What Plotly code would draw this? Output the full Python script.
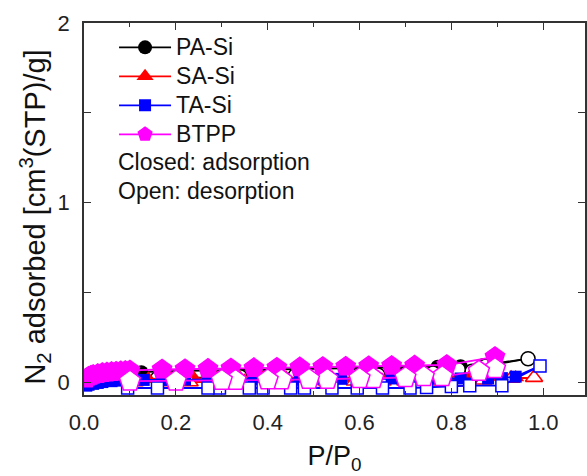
import plotly.graph_objects as go

# ---------------- data ----------------
pa_ads_x = [0.005, 0.02, 0.04, 0.06, 0.08, 0.10, 0.125, 0.17, 0.22, 0.27, 0.32, 0.37, 0.42, 0.47, 0.52,
            0.57, 0.62, 0.67, 0.72, 0.77, 0.82, 0.87, 0.967]
pa_ads_y = [0.01, 0.02, 0.03, 0.035, 0.04, 0.045, 0.055, 0.06, 0.062, 0.064, 0.066, 0.068, 0.07, 0.072, 0.074,
            0.076, 0.078, 0.08, 0.082, 0.085, 0.088, 0.095, 0.13]
pa_des_x = [0.967, 0.875, 0.845, 0.815, 0.76, 0.70, 0.64, 0.58, 0.52, 0.46, 0.40, 0.34, 0.28, 0.22, 0.16, 0.10]
pa_des_y = [0.13, 0.09, 0.06, 0.07, 0.05, 0.045, 0.04, 0.04, 0.035, 0.035, 0.03, 0.03, 0.025, 0.025, 0.02, 0.02]

sa_ads_x = [0.005, 0.02, 0.04, 0.06, 0.08, 0.10, 0.14, 0.19, 0.24, 0.29, 0.34, 0.39, 0.44, 0.49, 0.54,
            0.59, 0.64, 0.69, 0.74, 0.79, 0.84, 0.89, 0.94, 0.98]
sa_ads_y = [-0.01, 0.0, 0.005, 0.01, 0.012, 0.015, 0.018, 0.02, 0.02, 0.022, 0.022, 0.024, 0.024, 0.025, 0.026,
            0.026, 0.027, 0.028, 0.028, 0.03, 0.03, 0.03, 0.025, 0.02]
sa_des_x = [0.98, 0.93, 0.87, 0.815, 0.76, 0.70, 0.65, 0.59, 0.53, 0.47, 0.41, 0.35, 0.29, 0.23, 0.17, 0.11]
sa_des_y = [0.025, 0.02, 0.01, 0.0, 0.005, 0.005, 0.005, 0.005, 0.0, 0.0, 0.0, 0.0, 0.0, 0.0, 0.0, 0.0]

ta_ads_x = [0.005, 0.01, 0.02, 0.03, 0.04, 0.06, 0.08, 0.10, 0.13, 0.17, 0.22, 0.27, 0.32, 0.37, 0.42,
            0.47, 0.52, 0.56, 0.62, 0.67, 0.72, 0.77, 0.82, 0.88, 0.91, 0.94, 0.993]
ta_ads_y = [-0.02, -0.015, -0.01, -0.005, 0.0, 0.005, 0.008, 0.01, 0.012, 0.012, 0.014, 0.014, 0.015, 0.016, 0.016,
            0.017, 0.018, 0.018, 0.019, 0.02, 0.02, 0.02, 0.02, 0.02, 0.022, 0.03, 0.09]
ta_des_x = [0.993, 0.91, 0.84, 0.80, 0.746, 0.71, 0.65, 0.595, 0.54, 0.48, 0.45, 0.39, 0.36, 0.295, 0.27, 0.16, 0.095]
ta_des_y = [0.09, -0.02, -0.02, -0.025, -0.03, -0.033, -0.033, -0.033, -0.033, -0.033, -0.033, -0.033, -0.033,
            -0.033, -0.033, -0.033, -0.033]

bt_ads_x = [0.005, 0.01, 0.015, 0.02, 0.03, 0.04, 0.05, 0.06, 0.07, 0.08, 0.09, 0.10, 0.17, 0.22, 0.27,
            0.32, 0.37, 0.42, 0.47, 0.52, 0.57, 0.62, 0.67, 0.72, 0.79, 0.895]
bt_ads_y = [0.02, 0.03, 0.035, 0.04, 0.045, 0.05, 0.053, 0.056, 0.058, 0.06, 0.062, 0.065, 0.07, 0.072, 0.074,
            0.076, 0.078, 0.08, 0.082, 0.084, 0.086, 0.088, 0.09, 0.092, 0.095, 0.14]
bt_des_x = [0.895, 0.86, 0.78, 0.74, 0.70, 0.63, 0.60, 0.53, 0.49, 0.43, 0.40, 0.33, 0.30, 0.20, 0.10]
bt_des_y = [0.075, 0.06, 0.03, 0.03, 0.025, 0.02, 0.02, 0.015, 0.015, 0.012, 0.012, 0.01, 0.01, 0.005, 0.005]

names = ["PA-Si", "SA-Si", "TA-Si", "BTPP"]
colors = ["#000000", "#ff0000", "#0000ff", "#ff00ff"]
symbols = ["circle", "triangle-up", "square", "pentagon"]
sizes = [14, 15, 12, 22]
ads = [(pa_ads_x, pa_ads_y), (sa_ads_x, sa_ads_y), (ta_ads_x, ta_ads_y), (bt_ads_x, bt_ads_y)]
des = [(pa_des_x, pa_des_y), (sa_des_x, sa_des_y), (ta_des_x, ta_des_y), (bt_des_x, bt_des_y)]
note_lines = ["Closed: adsorption", "Open: desorption"]

FONT = "Liberation Sans, Arial, sans-serif"
TXT = "#111"

fig = go.Figure()
for i in range(4):
    fig.add_trace(go.Scatter(
        x=ads[i][0], y=ads[i][1], mode="lines+markers",
        name='<span style="font-size:23px">%s</span>' % names[i],
        line=dict(color=colors[i], width=1.8),
        marker=dict(symbol=symbols[i], size=sizes[i], color=colors[i],
                    line=dict(color=colors[i], width=0)),
    ))
    fig.add_trace(go.Scatter(
        x=des[i][0], y=des[i][1], mode="lines+markers", showlegend=False,
        line=dict(color=colors[i], width=1.8),
        marker=dict(symbol=symbols[i], size=sizes[i], color="white",
                    line=dict(color=colors[i], width=1.5)),
    ))

axis_common = dict(
    showline=True, linecolor="#333", linewidth=1.5, mirror="ticks",
    ticks="inside", tickcolor="#333", ticklen=7, tickwidth=1.2,
    showgrid=False, zeroline=False,
    tickfont=dict(family=FONT, size=22, color="#222"),
)

fig.update_xaxes(
    range=[0, 1.091], tickvals=[0, 0.2, 0.4, 0.6, 0.8, 1.0],
    ticktext=["0.0", "0.2", "0.4", "0.6", "0.8", "1.0"],
    minor=dict(ticks="inside", dtick=0.1, tick0=0, ticklen=4, tickcolor="#333"),
    title=dict(text="P/P<sub>0</sub>", font=dict(family=FONT, size=27, color=TXT), standoff=12),
    ticklabelstandoff=7,
    **axis_common,
)
fig.update_yaxes(
    range=[-0.072, 2.0], tickvals=[0, 1, 2],
    minor=dict(ticks="inside", dtick=0.5, tick0=0, ticklen=7, tickcolor="#333"),
    ticklabelstandoff=8,
    **axis_common,
)

# y-axis title
fig.add_annotation(text="N<sub>2</sub> adsorbed [cm<sup>3</sup>(STP)/g]", xref="paper", yref="paper",
                   x=-0.097, y=0.478, xanchor="center", yanchor="middle", textangle=-90, showarrow=False,
                   font=dict(family=FONT, size=29, color=TXT))

for k, line in enumerate(note_lines):
    fig.add_annotation(text=line, xref="paper", yref="paper", x=0.063, y=0.626 - 0.078 * k,
                       xanchor="left", yanchor="middle", showarrow=False,
                       font=dict(family=FONT, size=23, color=TXT))

fig.update_layout(
    width=587, height=476,
    margin=dict(l=84, r=0, t=23, b=81),
    paper_bgcolor="white", plot_bgcolor="white",
    showlegend=True,
    legend=dict(x=0.06, y=0.987, xanchor="left", yanchor="top", bgcolor="rgba(0,0,0,0)",
                font=dict(family=FONT, size=20, color=TXT), itemwidth=52,
                tracegroupgap=0),
)

fig.write_html("out.html")
